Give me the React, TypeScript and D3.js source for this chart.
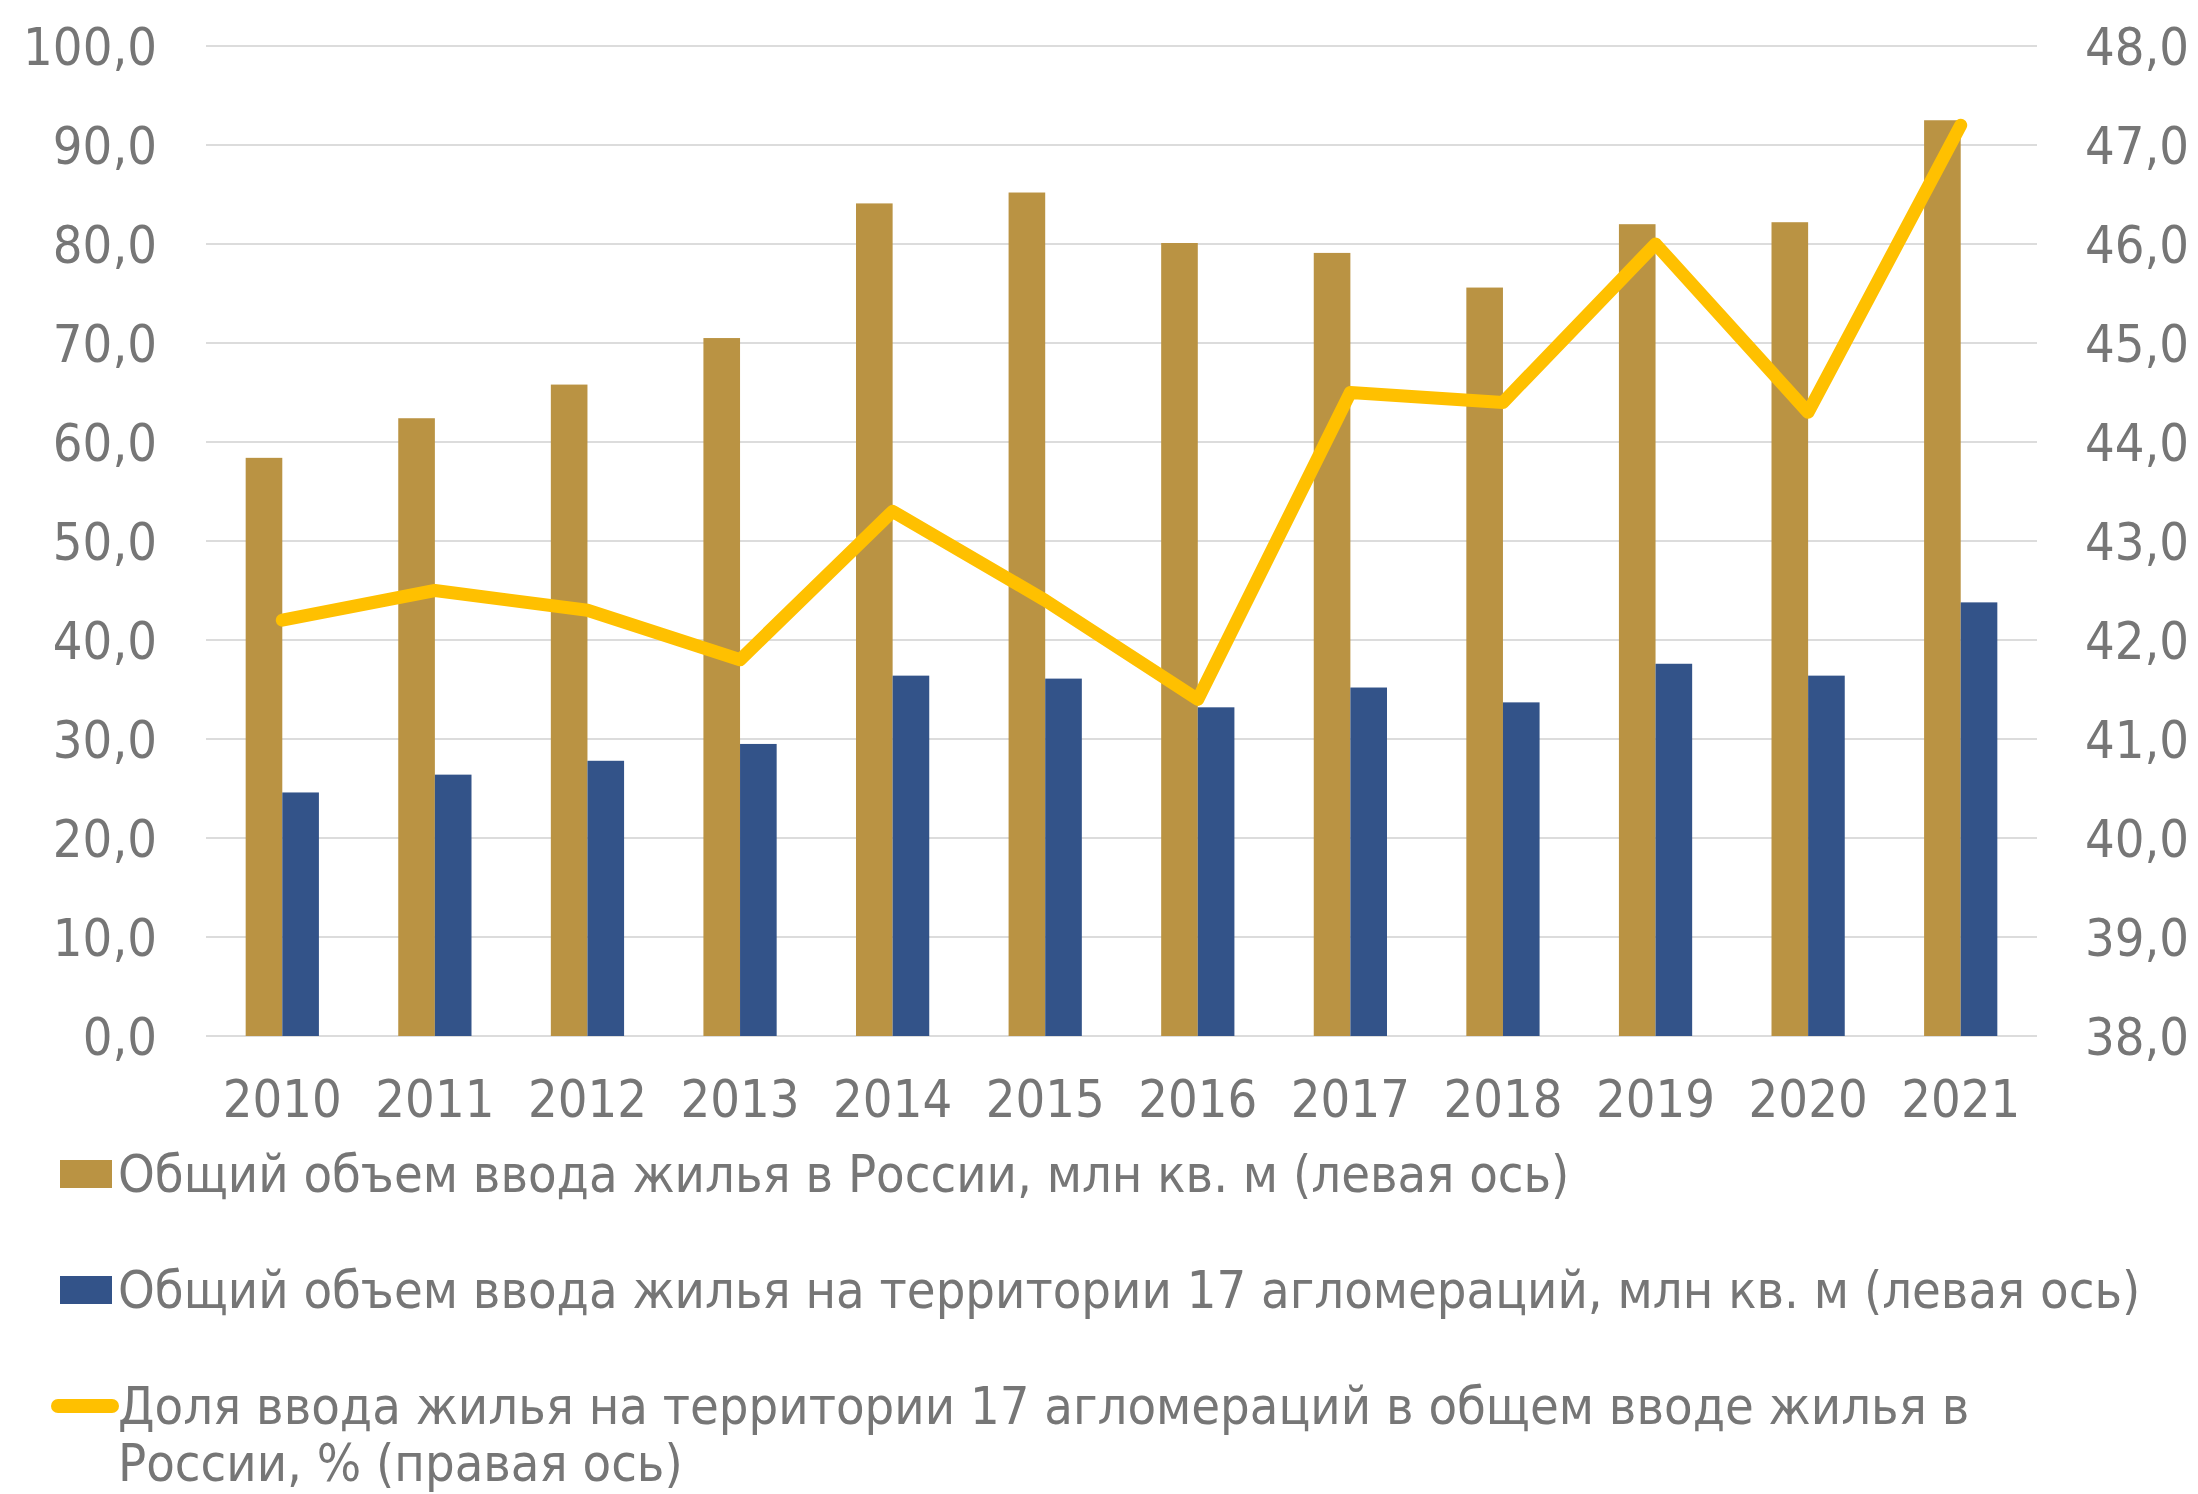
import React, { useEffect, useRef } from 'react';
import * as d3 from 'd3';

const years = ['2010', '2011', '2012', '2013', '2014', '2015', '2016', '2017', '2018', '2019', '2020', '2021'];
const totalRussia = [58.4, 62.4, 65.8, 70.5, 84.1, 85.2, 80.1, 79.1, 75.6, 82.0, 82.2, 92.5];
const agglomerations = [24.6, 26.4, 27.8, 29.5, 36.4, 36.1, 33.2, 35.2, 33.7, 37.6, 36.4, 43.8];
const sharePct = [42.2, 42.5, 42.3, 41.8, 43.3, 42.4, 41.4, 44.5, 44.4, 46.0, 44.3, 47.2];
const leftTicks = [0, 10, 20, 30, 40, 50, 60, 70, 80, 90, 100];
const rightTicks = [38, 39, 40, 41, 42, 43, 44, 45, 46, 47, 48];
const legendLabels = [
  'Общий объем ввода жилья в России, млн кв. м (левая ось)',
  'Общий объем ввода жилья на территории 17 агломераций, млн кв. м (левая ось)',
  ['Доля ввода жилья на территории 17 агломераций в общем вводе жилья в', 'России, % (правая ось)'],
];

const W = 2198;
const H = 1494;
const GOLD = '#BA9343';
const BLUE = '#335389';
const YELLOW = '#FFC000';
const TEXT = '#767676';
const FONT = '"DejaVu Sans Condensed", "DejaVu Sans", sans-serif';

const fmt = (v: number) => v.toFixed(1).replace('.', ',');

const App = () => {
  const ref = useRef<SVGSVGElement>(null);

  useEffect(() => {
    const svg = d3.select(ref.current);
    svg.selectAll('*').remove();

    const margin = { top: 46, right: 161, bottom: 458, left: 206 };
    const plotW = W - margin.left - margin.right;
    const plotH = H - margin.top - margin.bottom;

    const x0 = d3.scaleBand().domain(years).range([0, plotW]).paddingInner(0.52).paddingOuter(0.26);
    const x1 = d3.scaleBand().domain(['total', 'agg']).range([0, x0.bandwidth()]);
    const yL = d3.scaleLinear().domain([0, 100]).range([plotH, 0]);
    const yR = d3.scaleLinear().domain([38, 48]).range([plotH, 0]);

    const g = svg.append('g').attr('transform', `translate(${margin.left},${margin.top})`);

    // grid
    g.append('g')
      .selectAll('line')
      .data(leftTicks)
      .join('line')
      .attr('x1', 0)
      .attr('x2', plotW)
      .attr('y1', (d) => yL(d))
      .attr('y2', (d) => yL(d))
      .attr('stroke', '#DCDCDC')
      .attr('stroke-width', 2);

    // left axis labels
    g.append('g')
      .selectAll('text')
      .data(leftTicks)
      .join('text')
      .attr('x', -49)
      .attr('y', (d) => yL(d))
      .attr('dy', '0.36em')
      .attr('text-anchor', 'end')
      .text((d) => fmt(d));

    // right axis labels
    g.append('g')
      .selectAll('text')
      .data(rightTicks)
      .join('text')
      .attr('x', plotW + 48)
      .attr('y', (d) => yR(d))
      .attr('dy', '0.36em')
      .attr('text-anchor', 'start')
      .text((d) => fmt(d));

    // x labels
    g.append('g')
      .selectAll('text')
      .data(years)
      .join('text')
      .attr('x', (d) => (x0(d) as number) + x0.bandwidth() / 2)
      .attr('y', plotH + 81)
      .attr('text-anchor', 'middle')
      .text((d) => d);

    // bars
    const groups = g
      .append('g')
      .selectAll('g')
      .data(years)
      .join('g')
      .attr('transform', (d) => `translate(${x0(d)},0)`);

    groups
      .append('rect')
      .attr('x', x1('total') as number)
      .attr('width', x1.bandwidth())
      .attr('y', (_, i) => yL(totalRussia[i]))
      .attr('height', (_, i) => plotH - yL(totalRussia[i]))
      .attr('fill', GOLD);

    groups
      .append('rect')
      .attr('x', x1('agg') as number)
      .attr('width', x1.bandwidth())
      .attr('y', (_, i) => yL(agglomerations[i]))
      .attr('height', (_, i) => plotH - yL(agglomerations[i]))
      .attr('fill', BLUE);

    // line on right axis
    const line = d3
      .line<number>()
      .x((_, i) => (x0(years[i]) as number) + x0.bandwidth() / 2)
      .y((d) => yR(d));

    g.append('path')
      .datum(sharePct)
      .attr('fill', 'none')
      .attr('stroke', YELLOW)
      .attr('stroke-width', 13)
      .attr('stroke-linejoin', 'round')
      .attr('stroke-linecap', 'round')
      .attr('d', line);

    // legend
    const leg = svg.append('g');
    leg.append('rect').attr('x', 60).attr('y', 1160).attr('width', 52).attr('height', 28).attr('fill', GOLD);
    leg.append('text').attr('x', 118).attr('y', 1192).text(legendLabels[0] as string);
    leg.append('rect').attr('x', 60).attr('y', 1276).attr('width', 52).attr('height', 28).attr('fill', BLUE);
    leg.append('text').attr('x', 118).attr('y', 1308).text(legendLabels[1] as string);
    leg.append('line')
      .attr('x1', 58).attr('x2', 112).attr('y1', 1406).attr('y2', 1406)
      .attr('stroke', YELLOW).attr('stroke-width', 14).attr('stroke-linecap', 'round');
    const l3 = legendLabels[2] as string[];
    leg.append('text').attr('x', 118).attr('y', 1424).text(l3[0]);
    leg.append('text').attr('x', 118).attr('y', 1481).text(l3[1]);

    svg.selectAll('text')
      .attr('font-family', FONT)
      .attr('font-size', 52)
      .attr('fill', TEXT);
  }, []);

  return (
    <svg
      ref={ref}
      width={W}
      height={H}
      style={{ position: 'absolute', left: 0, top: 0, background: '#fff' }}
    />
  );
};

export default App;
